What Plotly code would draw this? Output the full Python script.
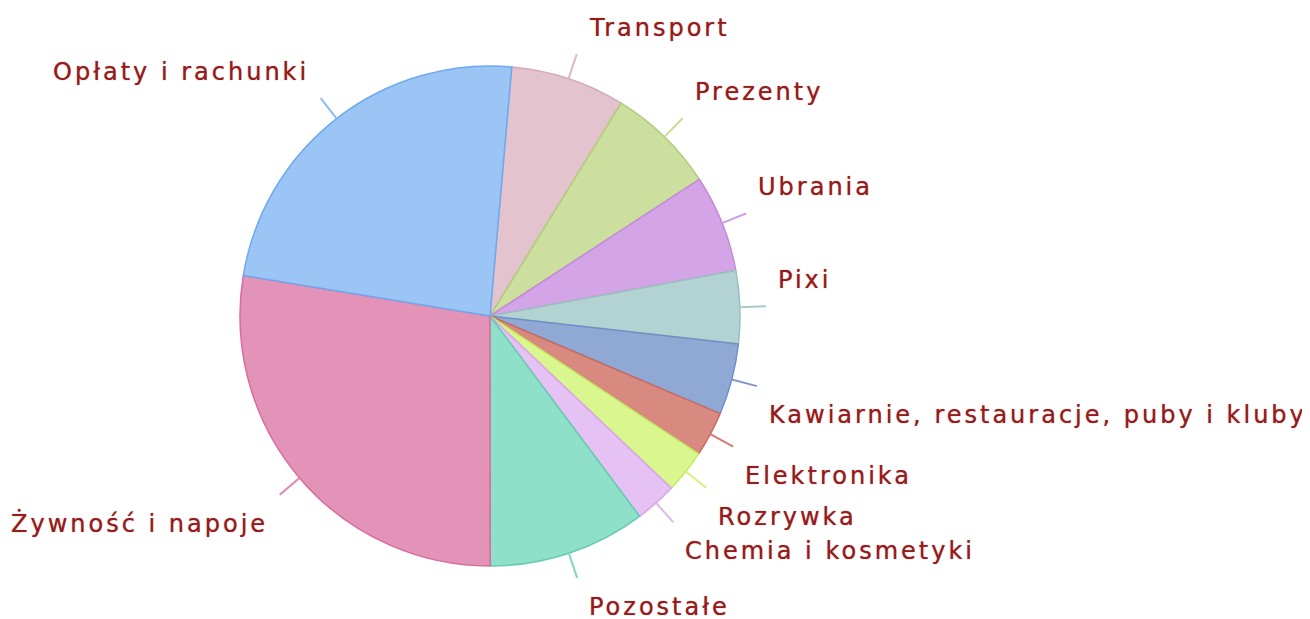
import math
import plotly.graph_objects as go

categories = ["Transport", "Prezenty", "Ubrania", "Pixi",
              "Kawiarnie, restauracje, puby i kluby", "Elektronika", "Rozrywka",
              "Chemia i kosmetyki", "Pozostałe", "Żywność i napoje", "Opłaty i rachunki"]
values = [7.4, 7.0, 6.3, 4.7, 4.6, 2.9, 2.8, 2.7, 10.2, 27.6, 23.8]
colors = ["#E2C3CE", "#CCDF9E", "#D3A5E6", "#B3D3D3", "#90A9D4", "#D88A80",
          "#D9F78E", "#E6C2F4", "#8FE0C9", "#E493B8", "#9AC5F5"]
borders = ["#D4A9BA", "#B3CC7A", "#C48AD9", "#98C0C0", "#6F8FC6", "#C86A5F",
           "#C4EC62", "#D8A4EC", "#62CBAE", "#D86C9E", "#6EA8EE"]
ticks = ["#DDB7C5", "#C6DC92", "#CE9BE2", "#A9CBCB", "#8099CC", "#D27D72",
         "#D0F27A", "#E0B6F0", "#7ED8BE", "#E085AE", "#8BBCF2"]

W, H = 1310, 619
OFF = 8  # page body margin
CX, CY, R = 490 - OFF, 316 - OFF, 250
ROT = 5.0

fig = go.Figure(go.Pie(
    labels=categories, values=values, sort=False, direction="clockwise",
    rotation=ROT, textinfo="none", hoverinfo="label+percent",
    marker=dict(colors=colors, line=dict(color=borders, width=1.5)),
    domain=dict(x=[(CX - R) / W, (CX + R) / W], y=[1 - (CY + R) / H, 1 - (CY - R) / H]),
    showlegend=False,
))

total = sum(values)
cum = 0.0
shapes, annots = [], []
for name, v, tc in zip(categories, values, ticks):
    mid = ROT + (cum + v / 2) / total * 360.0
    cum += v
    a = math.radians(mid)
    sx, sy = CX + R * math.sin(a), CY - R * math.cos(a)
    ex, ey = CX + (R + 26) * math.sin(a), CY - (R + 26) * math.cos(a)
    shapes.append(dict(type="line", xref="paper", yref="paper",
                       x0=sx / W, y0=1 - sy / H, x1=ex / W, y1=1 - ey / H,
                       line=dict(color=tc, width=2)))
    right = math.sin(a) >= 0
    upper = math.cos(a) > 0
    lx = ex + (10 if right else -10)
    ly = ey + (-26 if upper else 29)
    annots.append(dict(x=lx / W, y=1 - ly / H, xref="paper", yref="paper",
                       text='<span style="letter-spacing:3px">' + name + '</span>',
                       showarrow=False,
                       xanchor="left" if right else "right", yanchor="middle",
                       font=dict(family="DejaVu Sans", size=24, color="#961B1B",
                                 shadow="0px 0px 1px rgba(150,27,27,0.7)")))

fig.update_layout(width=W, height=H, margin=dict(l=0, r=0, t=0, b=0),
                  paper_bgcolor="white", plot_bgcolor="white",
                  shapes=shapes, annotations=annots)
fig.write_html("out.html")
